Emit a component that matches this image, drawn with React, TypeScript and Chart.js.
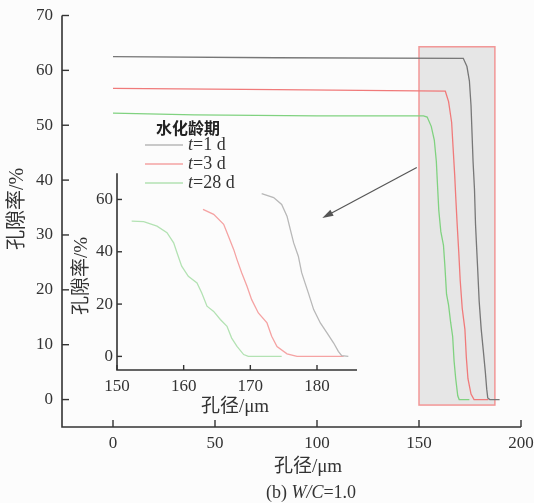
import React, { useEffect, useRef } from "react";
import { Chart, registerables } from "chart.js";
Chart.register(...registerables);

const W = 534;
const H = 503;

// ---- tick values ----
const mainXTicks = [0, 50, 100, 150, 200];
const mainYTicks = [0, 10, 20, 30, 40, 50, 60, 70];
const insetXTicks = [150, 160, 170, 180];
const insetYTicks = [0, 20, 40, 60];

// ---- texts ----
const legendTitle = "水化龄期";
const seriesLabels = ["=1 d", "=3 d", "=28 d"]; // preceded by italic "t"
const xTitle = "孔径/μm";
const yTitle = "孔隙率/%";
const captionParts = ["(b) ", "W/C", "=1.0"];

// ---- t = 1 d ----
const plateau1dX = [0, 80];
const plateau1dY = [62.5, 62.3];
const curve1dX = [171.7, 173.5, 174.7, 175.5, 176.0, 176.5, 177.2, 177.7, 178.2, 178.7, 179.5, 180.5, 181.5, 182.5, 183.2, 183.7, 184.7];
const curve1dY = [62.2, 60.7, 58.1, 53.6, 48.5, 43.4, 38.3, 32.0, 28.1, 24.3, 17.9, 12.8, 9.0, 5.1, 1.9, 0.3, 0];
const tail1dX = [189.5];
const tail1dY = [0];

// ---- t = 3 d ----
const plateau3dX = [0, 80];
const plateau3dY = [56.7, 56.5];
const curve3dX = [162.9, 164.5, 166.0, 166.7, 167.5, 168.0, 168.7, 169.5, 170.2, 171.2, 172.5, 173.2, 174.0, 175.5, 177.0, 180.5, 184.0];
const curve3dY = [56.2, 54.3, 50.5, 46.0, 40.9, 37.0, 32.0, 26.8, 21.7, 16.6, 12.8, 7.7, 3.8, 1.0, 0, 0, 0];

// ---- t = 28 d ----
const plateau28dX = [0, 40, 100];
const plateau28dY = [52.2, 51.9, 51.7];
const curve28dX = [152.2, 154.0, 156.0, 157.5, 158.5, 159.0, 159.7, 160.7, 162.0, 162.7, 163.5, 164.5, 165.5, 166.5, 167.2, 168.0, 169.0, 169.7, 174.7];
const curve28dY = [51.7, 51.5, 49.8, 47.3, 43.4, 39.6, 34.5, 30.6, 28.1, 24.3, 19.2, 17.2, 14.1, 11.5, 7.0, 3.8, 0.7, 0, 0];

// ---- annotations (data units) ----
const zoomBoxX = [150, 187.2];
const zoomBoxY = [-1, 64.3];
const arrowFrom = [148.9, 42.3];
const arrowTo = [102.6, 33.1];

const SERIF = "'Liberation Serif', 'Noto Sans CJK SC', serif";
const CJK = "'Noto Sans CJK SC', sans-serif";
const TEXT = "#333";
const AXIS = "#333";

const mainColors = ["#777777", "#f07a7a", "#80d280"];
const insetColors = ["#b8b8b8", "#f5a3a3", "#b3e2b3"];

function pts(xs: number[], ys: number[]) {
  return xs.map((x, i) => ({ x, y: ys[i] }));
}

function drawMixed(ctx: CanvasRenderingContext2D, parts: { t: string; italic?: boolean }[], size: number, x: number, y: number, align: "left" | "center") {
  let total = 0;
  const fonts = parts.map((p) => `${p.italic ? "italic " : ""}${size}px ${SERIF}`);
  parts.forEach((p, i) => {
    ctx.font = fonts[i];
    total += ctx.measureText(p.t).width;
  });
  let cx = align === "center" ? x - total / 2 : x;
  ctx.textAlign = "left";
  ctx.textBaseline = "middle";
  parts.forEach((p, i) => {
    ctx.font = fonts[i];
    ctx.fillText(p.t, cx, y);
    cx += ctx.measureText(p.t).width;
  });
}

function drawAxes(chart: any, xTicks: number[], yTicks: number[], tickLen: number, xLabelY: number, yLabelX: number) {
  const { ctx, chartArea: ca, scales } = chart;
  const { x, y } = scales;
  ctx.save();
  ctx.strokeStyle = AXIS;
  ctx.lineWidth = 1.6;
  ctx.beginPath();
  ctx.moveTo(ca.left, ca.top);
  ctx.lineTo(ca.left, ca.bottom);
  ctx.lineTo(ca.right, ca.bottom);
  ctx.stroke();
  ctx.lineWidth = 1.4;
  ctx.fillStyle = TEXT;
  ctx.font = `17px ${SERIF}`;
  ctx.textBaseline = "middle";
  xTicks.forEach((v) => {
    const px = x.getPixelForValue(v);
    ctx.beginPath();
    ctx.moveTo(px, ca.bottom);
    ctx.lineTo(px, ca.bottom - tickLen);
    ctx.stroke();
    ctx.textAlign = "center";
    ctx.fillText(String(v), px, xLabelY);
  });
  yTicks.forEach((v) => {
    const py = y.getPixelForValue(v);
    ctx.beginPath();
    ctx.moveTo(ca.left, py);
    ctx.lineTo(ca.left + tickLen, py);
    ctx.stroke();
    ctx.textAlign = "right";
    ctx.fillText(String(v), yLabelX, py);
  });
  ctx.restore();
}

const mainDecor = {
  id: "mainDecor",
  beforeDatasetsDraw(chart: any) {
    const { ctx, scales } = chart;
    const { x, y } = scales;
    const x0 = x.getPixelForValue(zoomBoxX[0]);
    const x1 = x.getPixelForValue(zoomBoxX[1]);
    const y0 = y.getPixelForValue(zoomBoxY[1]);
    const y1 = y.getPixelForValue(zoomBoxY[0]);
    ctx.save();
    ctx.fillStyle = "#e6e6e6";
    ctx.fillRect(x0, y0, x1 - x0, y1 - y0);
    ctx.strokeStyle = "#f29696";
    ctx.lineWidth = 1.5;
    ctx.strokeRect(x0, y0, x1 - x0, y1 - y0);
    ctx.restore();
  },
  afterDraw(chart: any) {
    const { ctx, scales } = chart;
    const { x, y } = scales;
    drawAxes(chart, mainXTicks, mainYTicks, 7, 444, 53);
    ctx.save();
    // arrow
    const ax0 = x.getPixelForValue(arrowFrom[0]);
    const ay0 = y.getPixelForValue(arrowFrom[1]);
    const ax1 = x.getPixelForValue(arrowTo[0]);
    const ay1 = y.getPixelForValue(arrowTo[1]);
    const ang = Math.atan2(ay1 - ay0, ax1 - ax0);
    ctx.strokeStyle = "#555";
    ctx.fillStyle = "#555";
    ctx.lineWidth = 1.2;
    ctx.beginPath();
    ctx.moveTo(ax0, ay0);
    ctx.lineTo(ax1 - 8 * Math.cos(ang), ay1 - 8 * Math.sin(ang));
    ctx.stroke();
    ctx.beginPath();
    ctx.moveTo(ax1, ay1);
    ctx.lineTo(ax1 - 11 * Math.cos(ang) + 3.5 * Math.sin(ang), ay1 - 11 * Math.sin(ang) - 3.5 * Math.cos(ang));
    ctx.lineTo(ax1 - 11 * Math.cos(ang) - 3.5 * Math.sin(ang), ay1 - 11 * Math.sin(ang) + 3.5 * Math.cos(ang));
    ctx.closePath();
    ctx.fill();
    // legend
    ctx.fillStyle = "#222";
    ctx.font = `bold 16px ${CJK}`;
    ctx.textAlign = "center";
    ctx.textBaseline = "middle";
    ctx.fillText(legendTitle, 188, 128);
    const rows = [145, 164, 183];
    seriesLabels.forEach((lab, i) => {
      ctx.strokeStyle = insetColors[i];
      ctx.lineWidth = 1.6;
      ctx.beginPath();
      ctx.moveTo(145, rows[i]);
      ctx.lineTo(183, rows[i]);
      ctx.stroke();
      ctx.fillStyle = TEXT;
      drawMixed(ctx, [{ t: "t", italic: true }, { t: lab }], 18, 188, rows[i], "left");
    });
    // titles
    ctx.fillStyle = TEXT;
    ctx.textAlign = "center";
    ctx.textBaseline = "middle";
    ctx.font = `19px ${SERIF}`;
    ctx.fillText(xTitle, 308, 467);
    ctx.save();
    ctx.translate(18, 209);
    ctx.rotate(-Math.PI / 2);
    ctx.font = `20px ${SERIF}`;
    ctx.fillText(yTitle, 0, 0);
    ctx.restore();
    drawMixed(ctx, [{ t: captionParts[0] }, { t: captionParts[1], italic: true }, { t: captionParts[2] }], 18, 311, 493, "center");
    ctx.restore();
  },
};

const insetDecor = {
  id: "insetDecor",
  afterDraw(chart: any) {
    const { ctx } = chart;
    drawAxes(chart, insetXTicks, insetYTicks, 5, 387, 113);
    ctx.save();
    ctx.fillStyle = TEXT;
    ctx.textAlign = "center";
    ctx.textBaseline = "middle";
    ctx.font = `19px ${SERIF}`;
    ctx.fillText(xTitle, 235, 407);
    ctx.save();
    ctx.translate(82, 276);
    ctx.rotate(-Math.PI / 2);
    ctx.font = `19px ${SERIF}`;
    ctx.fillText(yTitle, 0, 0);
    ctx.restore();
    ctx.restore();
  },
};

function lineDs(data: any[], color: string) {
  return {
    data,
    borderColor: color,
    borderWidth: 1.3,
    pointRadius: 0,
    tension: 0,
    fill: false,
  };
}

function hiddenScale(min: number, max: number, size: number, isX: boolean) {
  return {
    type: "linear",
    min,
    max,
    grid: { display: false, drawTicks: false },
    border: { display: false },
    ticks: { display: false },
    afterFit: (s: any) => {
      if (isX) s.height = size;
      else s.width = size;
    },
  };
}

export default function App() {
  const mainRef = useRef<HTMLCanvasElement>(null);
  const insetRef = useRef<HTMLCanvasElement>(null);

  useEffect(() => {
    const main = new Chart(mainRef.current!, {
      type: "line",
      data: {
        datasets: [
          lineDs(pts([...plateau1dX, ...curve1dX, ...tail1dX], [...plateau1dY, ...curve1dY, ...tail1dY]), mainColors[0]),
          lineDs(pts([...plateau3dX, ...curve3dX], [...plateau3dY, ...curve3dY]), mainColors[1]),
          lineDs(pts([...plateau28dX, ...curve28dX], [...plateau28dY, ...curve28dY]), mainColors[2]),
        ],
      },
      options: {
        responsive: false,
        animation: false,
        devicePixelRatio: 1,
        layout: { padding: { left: 0, right: 13, top: 15.5, bottom: 0 } },
        plugins: { legend: { display: false }, tooltip: { enabled: false } },
        scales: {
          x: hiddenScale(-25, 200, 76, true),
          y: hiddenScale(-5, 70, 62, false),
        },
      } as any,
      plugins: [mainDecor],
    });

    const inset = new Chart(insetRef.current!, {
      type: "line",
      data: {
        datasets: [
          lineDs(pts(curve1dX, curve1dY), insetColors[0]),
          lineDs(pts(curve3dX, curve3dY), insetColors[1]),
          lineDs(pts(curve28dX, curve28dY), insetColors[2]),
        ],
      },
      options: {
        responsive: false,
        animation: false,
        devicePixelRatio: 1,
        layout: { padding: { left: 0, right: 177, top: 173.3, bottom: 0 } },
        plugins: { legend: { display: false }, tooltip: { enabled: false } },
        scales: {
          x: hiddenScale(150, 186, 133, true),
          y: hiddenScale(-5.2, 70, 117, false),
        },
      } as any,
      plugins: [insetDecor],
    });

    return () => {
      main.destroy();
      inset.destroy();
    };
  }, []);

  return (
    <div style={{ position: "absolute", left: 0, top: 0, width: W, height: H, background: "#fcfcfc" }}>
      <canvas ref={mainRef} width={W} height={H} style={{ position: "absolute", left: 0, top: 0 }} />
      <canvas ref={insetRef} width={W} height={H} style={{ position: "absolute", left: 0, top: 0 }} />
    </div>
  );
}
